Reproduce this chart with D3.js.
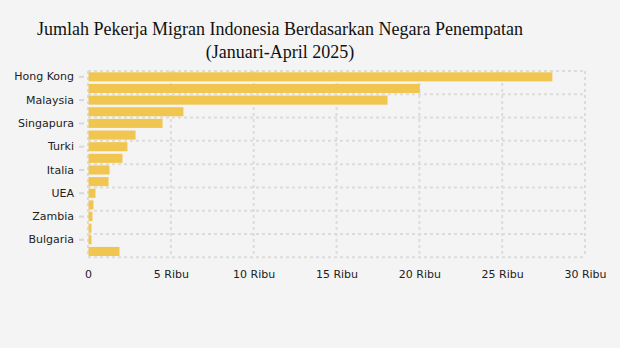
<!DOCTYPE html>
<html>
<head>
<meta charset="utf-8">
<script src="https://cdn.jsdelivr.net/npm/d3@7"></script>
<style>
  html, body { margin: 0; padding: 0; background: #f4f4f4; }
  svg { display: block; }
</style>
</head>
<body>
<svg id="chart" width="620" height="348"></svg>
<script>
// Destination countries, ordered by number of placements
const countries = [
  "Hong Kong", "Taiwan", "Malaysia", "Jepang", "Singapura", "Korea Selatan",
  "Turki", "Polandia", "Italia", "Arab Saudi", "UEA", "Brunei Darussalam",
  "Zambia", "Qatar", "Bulgaria", "Lainnya"
];
// Workers placed, January–April 2025
const workers = [
  28000, 20000, 18050, 5730, 4470, 2840,
  2350, 2050, 1270, 1210, 420, 300,
  240, 180, 180, 1870
];
const xTicks = [0, 5000, 10000, 15000, 20000, 25000, 30000];
const xTickLabels = ["0", "5 Ribu", "10 Ribu", "15 Ribu", "20 Ribu", "25 Ribu", "30 Ribu"];
const titleLines = [
  "Jumlah Pekerja Migran Indonesia Berdasarkan Negara Penempatan",
  "(Januari-April 2025)"
];

(function () {
  const svg = d3.select("#chart");
  const W = 620, H = 348;
  svg.append("rect").attr("width", W).attr("height", H).attr("fill", "#f4f4f4");

  const plotLeft = 88, plotRight = 585, plotTop = 71, plotBottom = 257.3;
  const pad = 0.22;

  const x = d3.scaleLinear().domain([0, 30000]).range([plotLeft, plotRight]);
  const y = d3.scaleBand().domain(countries).range([plotTop, plotBottom])
    .paddingInner(pad).paddingOuter(pad / 2);

  const gridColor = "#dcdcdc";
  const grid = svg.append("g");

  // vertical grid at each value tick
  grid.selectAll("line.v").data(xTicks).join("line").attr("class", "v")
    .attr("x1", d => x(d)).attr("x2", d => x(d))
    .attr("y1", plotTop).attr("y2", plotBottom)
    .attr("stroke", gridColor).attr("stroke-width", 2)
    .attr("stroke-dasharray", "3,3");

  // horizontal grid at every second band boundary
  const hLines = d3.range(0, countries.length + 1, 2).map(i =>
    i < countries.length ? y(countries[i]) - y.step() * pad / 2 : plotBottom);
  grid.selectAll("line.h").data(hLines).join("line").attr("class", "h")
    .attr("x1", plotLeft).attr("x2", plotRight)
    .attr("y1", d => d).attr("y2", d => d)
    .attr("stroke", gridColor).attr("stroke-width", 2)
    .attr("stroke-dasharray", "3,3");

  // bars
  svg.append("g").selectAll("rect").data(countries).join("rect")
    .attr("x", x(0) + 0.5)
    .attr("y", d => y(d))
    .attr("width", (d, i) => x(workers[i]) - x(0))
    .attr("height", y.bandwidth())
    .attr("fill", "#f0c650");

  // category axis: every second country labelled
  const yAxis = d3.axisLeft(y)
    .tickValues(countries.filter((d, i) => i % 2 === 0))
    .tickSize(5).tickPadding(5);
  const gy = svg.append("g").attr("transform", `translate(${plotLeft - 4},0)`).call(yAxis);
  gy.select(".domain").remove();
  gy.selectAll(".tick line").attr("stroke", "#d8d8d8").attr("stroke-width", 2);
  gy.selectAll(".tick text")
    .attr("font-family", "DejaVu Sans, Verdana, sans-serif")
    .attr("font-size", 11).attr("fill", "#222");

  // value axis
  const xAxis = d3.axisBottom(x).tickValues(xTicks)
    .tickFormat((d, i) => xTickLabels[i]).tickSize(0).tickPadding(0);
  const gx = svg.append("g").attr("transform", `translate(0,${plotBottom + 13})`).call(xAxis);
  gx.select(".domain").remove();
  gx.selectAll(".tick text")
    .attr("font-family", "DejaVu Sans, Verdana, sans-serif")
    .attr("font-size", 11).attr("fill", "#222");

  // title
  svg.append("g").selectAll("text").data(titleLines).join("text")
    .attr("x", 280).attr("y", (d, i) => 35 + i * 23)
    .attr("text-anchor", "middle")
    .attr("font-family", "Liberation Serif, Times New Roman, serif")
    .attr("font-size", 18).attr("fill", "#111")
    .text(d => d);
})();
</script>
</body>
</html>
